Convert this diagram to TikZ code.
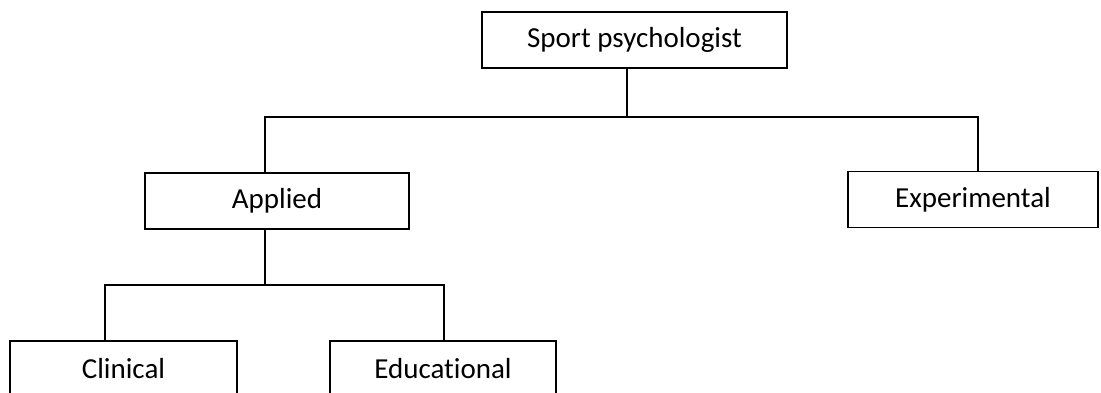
\documentclass[tikz,border=0pt]{standalone}
\usepackage{fontspec}
\setmainfont[Ligatures=NoCommon]{Carlito}
\usepackage{tikz}
\usetikzlibrary{positioning}

\tikzset{box/.style={draw,line width=1.5pt,minimum height=56pt,inner sep=0pt,
  font=\fontsize{29}{34}\selectfont}}

\begin{document}
\begin{tikzpicture}[x=1pt,y=-1pt,line width=1.5pt]
  \useasboundingbox (0,0) rectangle (1101,393);
  \clip (0,0) rectangle (1101,393);
  \node[box,minimum width=305pt] (sport) at (634.5,40) {Sport psychologist};
  \node[box,minimum width=264pt] (applied) at (277,201) {Applied};
  \node[box,minimum width=250pt] (experimental) at (973,199.5) {Experimental};
  \node[box,minimum width=227pt] (clinical) at (123.5,369) {Clinical};
  \node[box,minimum width=226pt] (educational) at (443,369) {Educational};
    \coordinate (top) at (627,117);
    \coordinate (mid) at (265,285);
    \draw ([xshift=-7.5pt]sport.south) -- (top);
    \draw ([xshift=-12pt]applied.north) |- (top) -| ([xshift=5pt]experimental.north);
    \draw ([xshift=-12pt]applied.south) -- (mid);
    \draw ([xshift=-18.5pt]clinical.north) |- (mid) -| ([xshift=1pt]educational.north);
\end{tikzpicture}
\end{document}
